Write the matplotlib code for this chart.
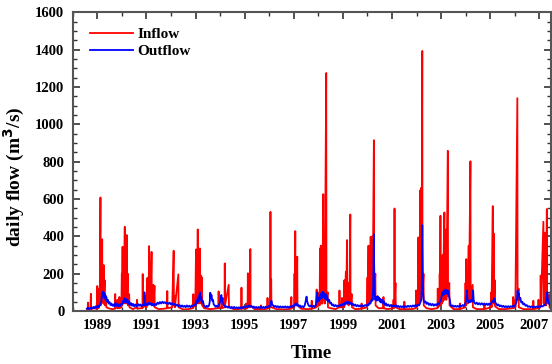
import numpy as np
import matplotlib
matplotlib.use('Agg')
import matplotlib.pyplot as plt
from matplotlib.transforms import ScaledTranslation

plt.rcParams['font.family'] = ['Liberation Serif', 'DejaVu Serif']
plt.rcParams['font.weight'] = 'bold'

# ============================================
# data: (decimal year, flow m3/s)
# ============================================

inflow = [
    (1988.58, 10), (1988.61, 12), (1988.62, 45), (1988.63, 8), (1988.72, 12), (1988.74, 92), (1988.75, 10),
    (1988.85, 15), (1988.98, 12), (1989.00, 134), (1989.01, 20), (1989.04, 60), (1989.05, 15),
    (1989.08, 120), (1989.10, 40), (1989.13, 608), (1989.14, 60), (1989.17, 250), (1989.18, 50),
    (1989.20, 384), (1989.21, 60), (1989.24, 180), (1989.25, 40), (1989.26, 246), (1989.27, 40),
    (1989.30, 165), (1989.31, 30), (1989.36, 80), (1989.37, 20), (1989.45, 15), (1989.60, 10),
    (1989.72, 12), (1989.73, 91), (1989.74, 15), (1989.80, 20), (1989.82, 60), (1989.83, 15),
    (1989.89, 15), (1989.90, 75), (1989.91, 15), (1989.98, 20),
    (1990.00, 200), (1990.01, 30), (1990.03, 344), (1990.04, 60), (1990.07, 200), (1990.08, 40),
    (1990.12, 451), (1990.13, 80), (1990.16, 150), (1990.17, 40), (1990.20, 407), (1990.21, 50),
    (1990.24, 200), (1990.25, 30), (1990.30, 90), (1990.31, 20), (1990.45, 10), (1990.60, 20),
    (1990.62, 60), (1990.63, 12), (1990.75, 15), (1990.84, 15), (1990.85, 198), (1990.86, 20),
    (1990.95, 30), (1990.96, 80), (1990.97, 20),
    (1991.01, 20), (1991.02, 175), (1991.03, 30), (1991.08, 180), (1991.09, 40), (1991.11, 348),
    (1991.12, 60), (1991.16, 258), (1991.17, 50), (1991.21, 317), (1991.22, 40), (1991.28, 140),
    (1991.29, 30), (1991.33, 135), (1991.34, 20), (1991.50, 10), (1991.70, 12), (1991.84, 15),
    (1991.85, 107), (1991.86, 15),
    (1992.05, 20), (1992.11, 323), (1992.12, 30), (1992.15, 80), (1992.16, 20), (1992.30, 196),
    (1992.31, 20), (1992.50, 8), (1992.70, 10), (1992.90, 15), (1992.91, 90), (1992.92, 20),
    (1992.98, 60), (1992.99, 25),
    (1993.02, 330), (1993.03, 60), (1993.06, 200), (1993.07, 50), (1993.09, 437), (1993.10, 70),
    (1993.13, 250), (1993.14, 40), (1993.18, 335), (1993.19, 60), (1993.22, 190), (1993.23, 40),
    (1993.26, 180), (1993.27, 30), (1993.35, 15), (1993.60, 10), (1993.93, 15), (1993.94, 105),
    (1993.95, 15),
    (1994.05, 20), (1994.06, 60), (1994.07, 15), (1994.18, 20), (1994.19, 255), (1994.20, 30),
    (1994.35, 140), (1994.36, 20), (1994.60, 8), (1994.86, 12), (1994.87, 125), (1994.88, 12),
    (1995.05, 15), (1995.06, 40), (1995.07, 12), (1995.12, 20), (1995.13, 202), (1995.14, 20),
    (1995.22, 20), (1995.23, 332), (1995.24, 30), (1995.40, 10), (1995.65, 10), (1995.66, 30),
    (1995.67, 8), (1995.92, 12), (1995.93, 70), (1995.94, 15),
    (1996.04, 20), (1996.05, 531), (1996.06, 40), (1996.08, 170), (1996.09, 20), (1996.30, 10),
    (1996.60, 8), (1996.89, 12), (1996.90, 75), (1996.91, 15),
    (1997.02, 20), (1997.03, 200), (1997.04, 30), (1997.06, 428), (1997.07, 40), (1997.10, 150),
    (1997.11, 30), (1997.14, 291), (1997.15, 30), (1997.30, 12), (1997.60, 10), (1997.72, 12),
    (1997.73, 55), (1997.74, 12), (1997.92, 20), (1997.93, 115), (1997.94, 25),
    (1998.03, 30), (1998.04, 100), (1998.05, 30), (1998.07, 335), (1998.08, 40), (1998.10, 350),
    (1998.11, 40), (1998.15, 200), (1998.16, 40), (1998.20, 626), (1998.21, 60), (1998.25, 150),
    (1998.26, 40), (1998.32, 1275), (1998.33, 60), (1998.38, 100), (1998.39, 20), (1998.50, 15),
    (1998.70, 10), (1998.85, 20), (1998.86, 110), (1998.87, 20), (1998.95, 20), (1998.96, 70),
    (1998.97, 20),
    (1999.05, 20), (1999.06, 165), (1999.07, 30), (1999.12, 210), (1999.13, 40), (1999.17, 380),
    (1999.18, 40), (1999.22, 150), (1999.23, 30), (1999.26, 110), (1999.27, 40), (1999.30, 517),
    (1999.31, 50), (1999.36, 90), (1999.37, 20), (1999.50, 10), (1999.75, 12), (1999.76, 40),
    (1999.77, 12), (1999.98, 20),
    (2000.00, 180), (2000.01, 30), (2000.04, 350), (2000.05, 50), (2000.09, 250), (2000.10, 40),
    (2000.13, 398), (2000.14, 50), (2000.20, 400), (2000.21, 60), (2000.26, 915), (2000.27, 80),
    (2000.32, 200), (2000.33, 30), (2000.45, 15), (2000.64, 15), (2000.65, 75), (2000.66, 15),
    (2000.80, 10),
    (2001.05, 15), (2001.06, 60), (2001.07, 15), (2001.09, 20), (2001.10, 549), (2001.11, 40),
    (2001.14, 150), (2001.15, 20), (2001.30, 10), (2001.49, 10), (2001.50, 50), (2001.51, 10),
    (2001.80, 10), (2001.97, 15), (2001.98, 110), (2001.99, 20),
    (2002.06, 30), (2002.07, 394), (2002.08, 50), (2002.12, 200), (2002.13, 50), (2002.15, 647),
    (2002.16, 80), (2002.19, 660), (2002.20, 80), (2002.23, 1393), (2002.24, 80), (2002.28, 200),
    (2002.29, 30), (2002.40, 15), (2002.60, 10), (2002.85, 15), (2002.86, 120), (2002.87, 20),
    (2002.93, 30), (2002.94, 200), (2002.95, 30), (2002.97, 510), (2002.98, 60),
    (2003.02, 200), (2003.03, 40), (2003.06, 300), (2003.07, 50), (2003.13, 528), (2003.14, 60),
    (2003.20, 437), (2003.21, 60), (2003.27, 858), (2003.28, 80), (2003.33, 150), (2003.34, 30),
    (2003.50, 10), (2003.75, 10), (2003.76, 40), (2003.77, 10), (2003.98, 20), (2003.99, 150),
    (2004.00, 30), (2004.02, 278), (2004.03, 40), (2004.07, 200), (2004.08, 40), (2004.12, 350),
    (2004.13, 50), (2004.19, 802), (2004.20, 60), (2004.28, 140), (2004.29, 20), (2004.45, 10),
    (2004.75, 10), (2004.76, 40), (2004.77, 10),
    (2005.03, 20), (2005.04, 100), (2005.05, 20), (2005.10, 562), (2005.11, 50), (2005.14, 415),
    (2005.15, 40), (2005.18, 165), (2005.19, 25), (2005.35, 10), (2005.60, 10), (2005.92, 15),
    (2005.93, 75), (2005.94, 15),
    (2006.00, 20), (2006.01, 60), (2006.02, 20), (2006.10, 1140), (2006.11, 60), (2006.15, 120),
    (2006.16, 20), (2006.35, 10), (2006.60, 10), (2006.74, 10), (2006.75, 55), (2006.76, 10),
    (2006.95, 15), (2006.96, 60), (2006.97, 15),
    (2007.04, 20), (2007.05, 190), (2007.06, 30), (2007.16, 478), (2007.17, 40), (2007.22, 420),
    (2007.23, 40), (2007.26, 150), (2007.27, 30), (2007.30, 546), (2007.31, 40), (2007.40, 90),
    (2007.41, 20), (2007.47, 10),
]

outflow = [
    (1988.58, 12), (1988.62, 18), (1988.66, 10), (1988.70, 16), (1988.74, 12), (1988.78, 20),
    (1988.82, 14), (1988.86, 22), (1988.90, 15), (1988.94, 25), (1988.98, 18), (1989.02, 28),
    (1989.06, 20), (1989.10, 35), (1989.14, 30), (1989.17, 60), (1989.20, 95), (1989.22, 75),
    (1989.24, 105), (1989.26, 80), (1989.28, 98), (1989.30, 70), (1989.32, 90), (1989.34, 60),
    (1989.37, 75), (1989.40, 50), (1989.43, 60), (1989.46, 40), (1989.50, 48), (1989.54, 32),
    (1989.58, 40), (1989.62, 28), (1989.66, 35), (1989.70, 25), (1989.74, 45), (1989.78, 28),
    (1989.82, 38), (1989.86, 25), (1989.90, 35), (1989.94, 28), (1989.98, 40),
    (1990.02, 35), (1990.05, 55), (1990.08, 45), (1990.11, 68), (1990.14, 50), (1990.17, 65),
    (1990.20, 45), (1990.23, 60), (1990.26, 38), (1990.30, 50), (1990.34, 32), (1990.38, 42),
    (1990.42, 28), (1990.46, 38), (1990.50, 25), (1990.55, 35), (1990.60, 25), (1990.65, 38),
    (1990.70, 28), (1990.75, 35), (1990.80, 25), (1990.85, 35), (1990.90, 30), (1990.92, 100),
    (1990.94, 35), (1990.98, 30),
    (1991.02, 40), (1991.06, 32), (1991.10, 45), (1991.14, 35), (1991.18, 42), (1991.22, 30),
    (1991.26, 38), (1991.30, 28), (1991.35, 38), (1991.40, 32), (1991.45, 45), (1991.50, 38),
    (1991.55, 48), (1991.60, 40), (1991.65, 50), (1991.70, 42), (1991.75, 48), (1991.80, 40),
    (1991.85, 45), (1991.90, 38), (1991.95, 45),
    (1992.00, 35), (1992.05, 42), (1992.10, 32), (1992.15, 38), (1992.20, 28), (1992.25, 35),
    (1992.30, 25), (1992.35, 32), (1992.40, 22), (1992.45, 30), (1992.50, 22), (1992.55, 28),
    (1992.60, 20), (1992.65, 30), (1992.70, 22), (1992.75, 28), (1992.80, 20), (1992.85, 30),
    (1992.90, 25), (1992.95, 35),
    (1993.00, 30), (1993.03, 55), (1993.06, 40), (1993.09, 70), (1993.12, 50), (1993.15, 80),
    (1993.18, 100), (1993.20, 60), (1993.23, 75), (1993.26, 45), (1993.30, 55), (1993.34, 30),
    (1993.38, 25), (1993.42, 20), (1993.46, 28), (1993.50, 22), (1993.55, 30), (1993.58, 50),
    (1993.60, 98), (1993.62, 70), (1993.65, 85), (1993.68, 55), (1993.71, 60), (1993.74, 35),
    (1993.78, 30), (1993.82, 22), (1993.86, 28), (1993.90, 22), (1993.94, 30), (1993.98, 40),
    (1994.02, 60), (1994.05, 86), (1994.07, 50), (1994.10, 70), (1994.13, 35), (1994.17, 28),
    (1994.22, 20), (1994.27, 25), (1994.32, 18), (1994.37, 24), (1994.42, 16), (1994.47, 22),
    (1994.52, 15), (1994.57, 22), (1994.62, 14), (1994.67, 20), (1994.72, 14), (1994.77, 20),
    (1994.82, 14), (1994.87, 22), (1994.92, 15), (1994.97, 24),
    (1995.02, 18), (1995.07, 26), (1995.12, 20), (1995.17, 30), (1995.22, 22), (1995.27, 28),
    (1995.32, 18), (1995.37, 24), (1995.42, 16), (1995.47, 22), (1995.52, 15), (1995.57, 22),
    (1995.62, 16), (1995.67, 24), (1995.72, 16), (1995.77, 22), (1995.82, 16), (1995.87, 24),
    (1995.92, 18), (1995.97, 26),
    (1996.02, 22), (1996.06, 40), (1996.09, 55), (1996.12, 35), (1996.16, 30), (1996.20, 22),
    (1996.25, 28), (1996.30, 20), (1996.35, 26), (1996.40, 18), (1996.45, 25), (1996.50, 18),
    (1996.55, 24), (1996.60, 18), (1996.65, 25), (1996.70, 18), (1996.75, 24), (1996.80, 18),
    (1996.85, 25), (1996.90, 20), (1996.95, 28),
    (1997.00, 22), (1997.05, 35), (1997.08, 42), (1997.12, 30), (1997.16, 36), (1997.20, 25),
    (1997.25, 30), (1997.30, 20), (1997.35, 26), (1997.40, 20), (1997.44, 28), (1997.47, 45),
    (1997.50, 65), (1997.52, 77), (1997.54, 55), (1997.57, 40), (1997.61, 28), (1997.65, 24),
    (1997.70, 30), (1997.75, 22), (1997.80, 28), (1997.85, 22), (1997.90, 35), (1997.95, 100),
    (1997.97, 50),
    (1998.00, 70), (1998.03, 55), (1998.06, 85), (1998.09, 65), (1998.12, 95), (1998.15, 70),
    (1998.18, 103), (1998.21, 75), (1998.24, 95), (1998.27, 65), (1998.30, 90), (1998.33, 60),
    (1998.36, 80), (1998.40, 50), (1998.44, 60), (1998.48, 40), (1998.52, 45), (1998.56, 30),
    (1998.60, 35), (1998.65, 25), (1998.70, 32), (1998.75, 24), (1998.80, 30), (1998.85, 25),
    (1998.90, 34), (1998.95, 28),
    (1999.00, 38), (1999.04, 32), (1999.08, 45), (1999.12, 38), (1999.16, 50), (1999.20, 40),
    (1999.24, 48), (1999.28, 38), (1999.32, 45), (1999.36, 32), (1999.40, 40), (1999.45, 28),
    (1999.50, 35), (1999.55, 25), (1999.60, 32), (1999.65, 24), (1999.70, 30), (1999.75, 24),
    (1999.80, 30), (1999.85, 25), (1999.90, 32), (1999.95, 28),
    (2000.00, 35), (2000.04, 30), (2000.08, 45), (2000.12, 40), (2000.16, 60), (2000.20, 55),
    (2000.23, 120), (2000.25, 300), (2000.26, 412), (2000.27, 250), (2000.29, 90), (2000.32, 60),
    (2000.35, 75), (2000.38, 55), (2000.41, 80), (2000.44, 60), (2000.47, 72), (2000.50, 50),
    (2000.53, 65), (2000.56, 45), (2000.60, 60), (2000.64, 40), (2000.68, 50), (2000.72, 32),
    (2000.76, 40), (2000.80, 28), (2000.85, 35), (2000.90, 25), (2000.95, 32),
    (2001.00, 24), (2001.05, 30), (2001.10, 25), (2001.15, 32), (2001.20, 22), (2001.25, 28),
    (2001.30, 20), (2001.35, 26), (2001.40, 20), (2001.45, 26), (2001.50, 20), (2001.55, 27),
    (2001.60, 21), (2001.65, 28), (2001.70, 22), (2001.75, 28), (2001.80, 22), (2001.85, 30),
    (2001.90, 24), (2001.95, 32),
    (2002.00, 26), (2002.05, 35), (2002.10, 30), (2002.15, 45), (2002.19, 60), (2002.21, 150),
    (2002.22, 350), (2002.23, 460), (2002.24, 300), (2002.26, 100), (2002.29, 55), (2002.32, 45),
    (2002.36, 52), (2002.40, 38), (2002.45, 45), (2002.50, 32), (2002.55, 40), (2002.60, 30),
    (2002.65, 38), (2002.70, 28), (2002.75, 36), (2002.80, 30), (2002.85, 40), (2002.90, 35),
    (2002.95, 50), (2002.99, 60),
    (2003.02, 80), (2003.05, 100), (2003.08, 85), (2003.11, 110), (2003.14, 90), (2003.17, 115),
    (2003.20, 95), (2003.23, 112), (2003.26, 90), (2003.29, 108), (2003.32, 80), (2003.35, 60),
    (2003.38, 35), (2003.42, 25), (2003.47, 30), (2003.52, 22), (2003.57, 28), (2003.62, 22),
    (2003.67, 28), (2003.72, 22), (2003.77, 30), (2003.82, 24), (2003.87, 32), (2003.92, 26),
    (2003.97, 38),
    (2004.01, 50), (2004.04, 80), (2004.05, 110), (2004.07, 60), (2004.10, 55), (2004.13, 45),
    (2004.16, 55), (2004.19, 48), (2004.22, 60), (2004.25, 50), (2004.28, 70), (2004.30, 110),
    (2004.32, 60), (2004.35, 45), (2004.40, 38), (2004.45, 45), (2004.50, 35), (2004.55, 42),
    (2004.60, 34), (2004.65, 42), (2004.70, 34), (2004.75, 40), (2004.80, 32), (2004.85, 40),
    (2004.90, 32), (2004.95, 40),
    (2005.00, 35), (2005.04, 45), (2005.08, 55), (2005.12, 48), (2005.15, 62), (2005.17, 68),
    (2005.20, 45), (2005.24, 40), (2005.28, 30), (2005.33, 35), (2005.38, 25), (2005.43, 30),
    (2005.48, 22), (2005.53, 28), (2005.58, 20), (2005.63, 26), (2005.68, 20), (2005.73, 26),
    (2005.78, 20), (2005.83, 26), (2005.88, 22), (2005.93, 28), (2005.98, 24),
    (2006.02, 35), (2006.06, 45), (2006.09, 70), (2006.11, 110), (2006.13, 85), (2006.16, 95),
    (2006.19, 60), (2006.22, 70), (2006.26, 45), (2006.30, 50), (2006.34, 35), (2006.38, 40),
    (2006.43, 28), (2006.48, 32), (2006.53, 22), (2006.58, 26), (2006.63, 20), (2006.68, 25),
    (2006.73, 19), (2006.78, 24), (2006.83, 19), (2006.88, 24), (2006.93, 20), (2006.98, 25),
    (2007.03, 22), (2007.08, 28), (2007.13, 24), (2007.18, 32), (2007.22, 30), (2007.26, 45),
    (2007.29, 70), (2007.32, 100), (2007.34, 60), (2007.37, 45), (2007.41, 35), (2007.45, 28),
    (2007.47, 30),
]

label_years = [1989, 1991, 1993, 1995, 1997, 1999, 2001, 2003, 2005, 2007]
minor_years = [1988, 1990, 1992, 1994, 1996, 1998, 2000, 2002, 2004, 2006]
y_ticks = [0, 200, 400, 600, 800, 1000, 1200, 1400, 1600]

t_in, q_in = np.array(inflow).T
t_out, q_out = np.array(outflow).T

# ============================================
# figure
# ============================================

fig = plt.figure(figsize=(5.52, 3.64), dpi=100)
ax = fig.add_axes([0.1317, 0.1456, 0.8665, 0.8206])

ax.plot(t_in, q_in, color='#ff0000', lw=1.3, label='Inflow')
ax.plot(t_out, q_out, color='#0000ff', lw=1.3, label='Outflow')

ax.set_xlim(1988.58, 2007.47)
ax.set_ylim(0, 1600)

ax.set_xticks(label_years)
ax.set_xticklabels([str(y) for y in label_years])
ax.set_xticks(minor_years, minor=True)
ax.set_yticks(y_ticks)
ax.set_yticks(np.arange(0, 1601, 50), minor=True)

ax.tick_params(which='both', direction='in', top=True, right=True,
               labelsize=10.5, color='#333333')
ax.tick_params(which='major', length=5, width=1.2, pad=6)
ax.tick_params(which='minor', length=3, width=1.0)

# last year label sits a little left of its tick so it stays inside the picture
last = ax.get_xticklabels()[-1]
last.set_transform(last.get_transform() + ScaledTranslation(-4 / 72, 0, fig.dpi_scale_trans))

for sp in ax.spines.values():
    sp.set_color('#555555')
    sp.set_linewidth(1.5)

ax.set_ylabel('daily flow (m$^{\\mathbf{3}}$/s)', fontsize=14, fontweight='bold')
ax.yaxis.set_label_coords(-0.096, 0.45)
ax.set_xlabel('Time', fontsize=13.5, fontweight='bold', labelpad=9)

ax.legend(loc='upper left', bbox_to_anchor=(0.008, 0.995), frameon=False,
          fontsize=11, handlelength=2.8, handletextpad=0.3, labelspacing=0.2)

fig.savefig('out.png', dpi=100)
